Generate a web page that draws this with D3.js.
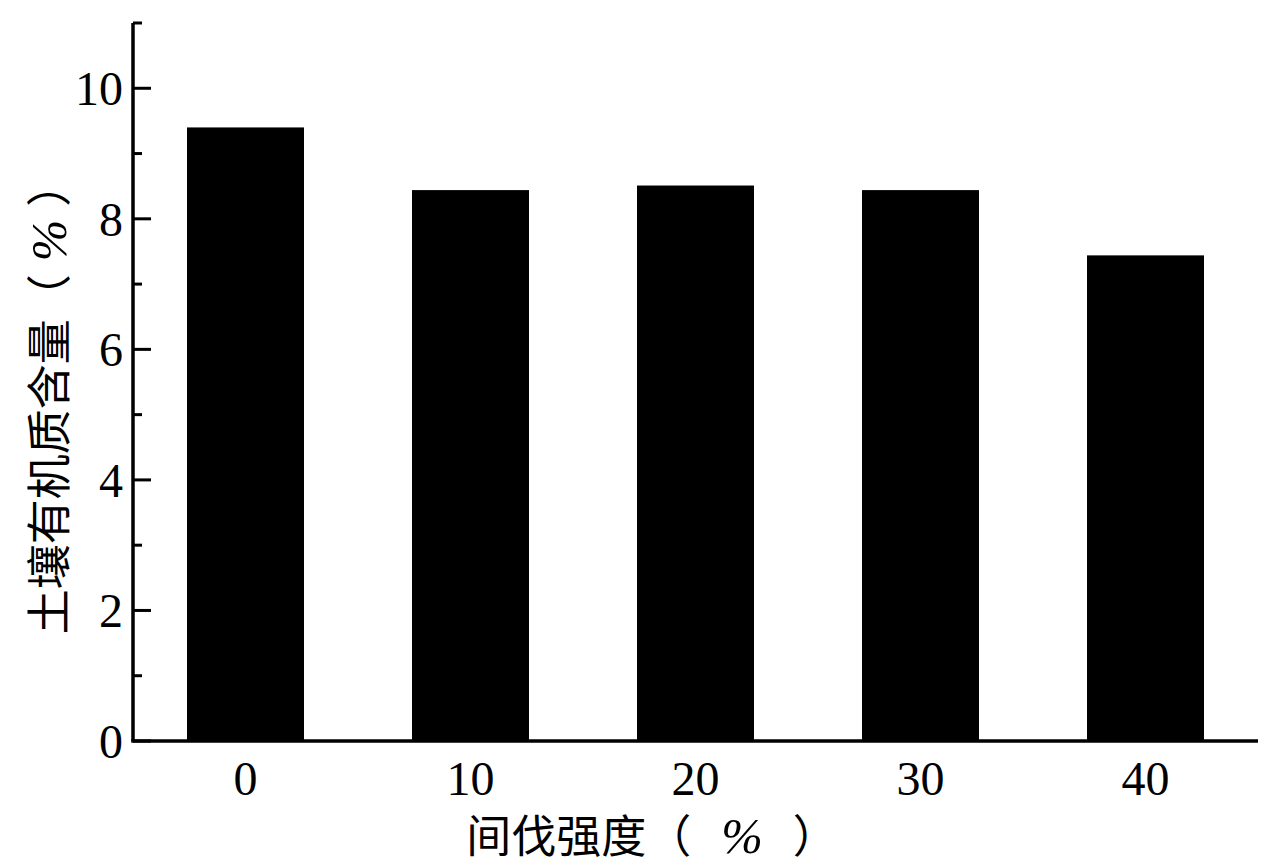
<!DOCTYPE html>
<html>
  <head>
    <meta charset="utf-8" />
    <script src="https://d3js.org/d3.v7.min.js"></script>
    <style>
      body { margin: 0; background: #fff; }
    </style>
  </head>
  <body>
    <svg id="chart" width="1273" height="867"></svg>
    <script>
      // data
      const categories = ["0", "10", "20", "30", "40"];
      const values = [9.4, 8.44, 8.51, 8.44, 7.44];
      const yTicks = [0, 2, 4, 6, 8, 10];

      const svg = d3.select("#chart");
      const plotLeft = 133, plotRight = 1258, plotTop = 23, plotBottom = 741;
      const serif = "'Liberation Serif', 'Times New Roman', serif";
      const cjk = "'Noto Sans CJK SC', sans-serif";

      const x = d3.scaleBand()
        .domain(categories)
        .range([plotLeft, plotRight])
        .paddingInner(0.48)
        .paddingOuter(0.24);

      const y = d3.scaleLinear().domain([0, 11]).range([plotBottom, plotTop]);

      // bars
      svg.selectAll("rect.bar")
        .data(values)
        .join("rect")
        .attr("class", "bar")
        .attr("x", (d, i) => x(categories[i]))
        .attr("width", x.bandwidth())
        .attr("y", d => y(d))
        .attr("height", d => y(0) - y(d))
        .attr("fill", "#000");

      // y axis, ticks pointing inward
      const yAxis = svg.append("g")
        .attr("transform", "translate(" + plotLeft + ",0)");
      yAxis.append("line")
        .attr("x1", 0).attr("x2", 0)
        .attr("y1", y(11)).attr("y2", y(0))
        .attr("stroke", "#000").attr("stroke-width", 3.5);
      yAxis.selectAll("line.minor")
        .data(d3.range(1, 12, 2))
        .join("line")
        .attr("class", "minor")
        .attr("x1", 0).attr("x2", 9)
        .attr("y1", d => y(d)).attr("y2", d => y(d))
        .attr("stroke", "#000").attr("stroke-width", 3);
      yAxis.selectAll("line.major")
        .data(yTicks)
        .join("line")
        .attr("class", "major")
        .attr("x1", 0).attr("x2", 18)
        .attr("y1", d => y(d)).attr("y2", d => y(d))
        .attr("stroke", "#000").attr("stroke-width", 3);
      yAxis.selectAll("text")
        .data(yTicks)
        .join("text")
        .attr("x", -10)
        .attr("y", d => y(d))
        .attr("dy", "0.35em")
        .attr("text-anchor", "end")
        .style("font-family", serif)
        .style("font-size", "48px")
        .text(d => d);

      // x axis
      svg.append("line")
        .attr("x1", plotLeft - 1.75).attr("x2", plotRight)
        .attr("y1", plotBottom).attr("y2", plotBottom)
        .attr("stroke", "#000").attr("stroke-width", 3.5);
      svg.selectAll("text.xtick")
        .data(categories)
        .join("text")
        .attr("class", "xtick")
        .attr("x", d => x(d) + x.bandwidth() / 2)
        .attr("y", 795)
        .attr("text-anchor", "middle")
        .style("font-family", serif)
        .style("font-size", "48px")
        .text(d => d);

      // axis titles: CJK text with an italic serif % in full-width brackets
      function title(sel, label, gap) {
        sel.style("font-family", cjk).style("font-size", "45px");
        sel.append("tspan").text(label + "（");
        sel.append("tspan")
          .attr("dx", gap)
          .style("font-family", serif)
          .style("font-style", "italic")
          .style("font-size", "50px")
          .text("%");
        sel.append("tspan").attr("dx", gap).text("）");
      }

      svg.append("text")
        .attr("x", 652)
        .attr("y", 853)
        .attr("text-anchor", "middle")
        .call(title, "间伐强度", 30);

      svg.append("text")
        .attr("transform", "translate(66,398) rotate(-90)")
        .attr("text-anchor", "middle")
        .call(title, "土壤有机质含量", 13);
    </script>
  </body>
</html>
